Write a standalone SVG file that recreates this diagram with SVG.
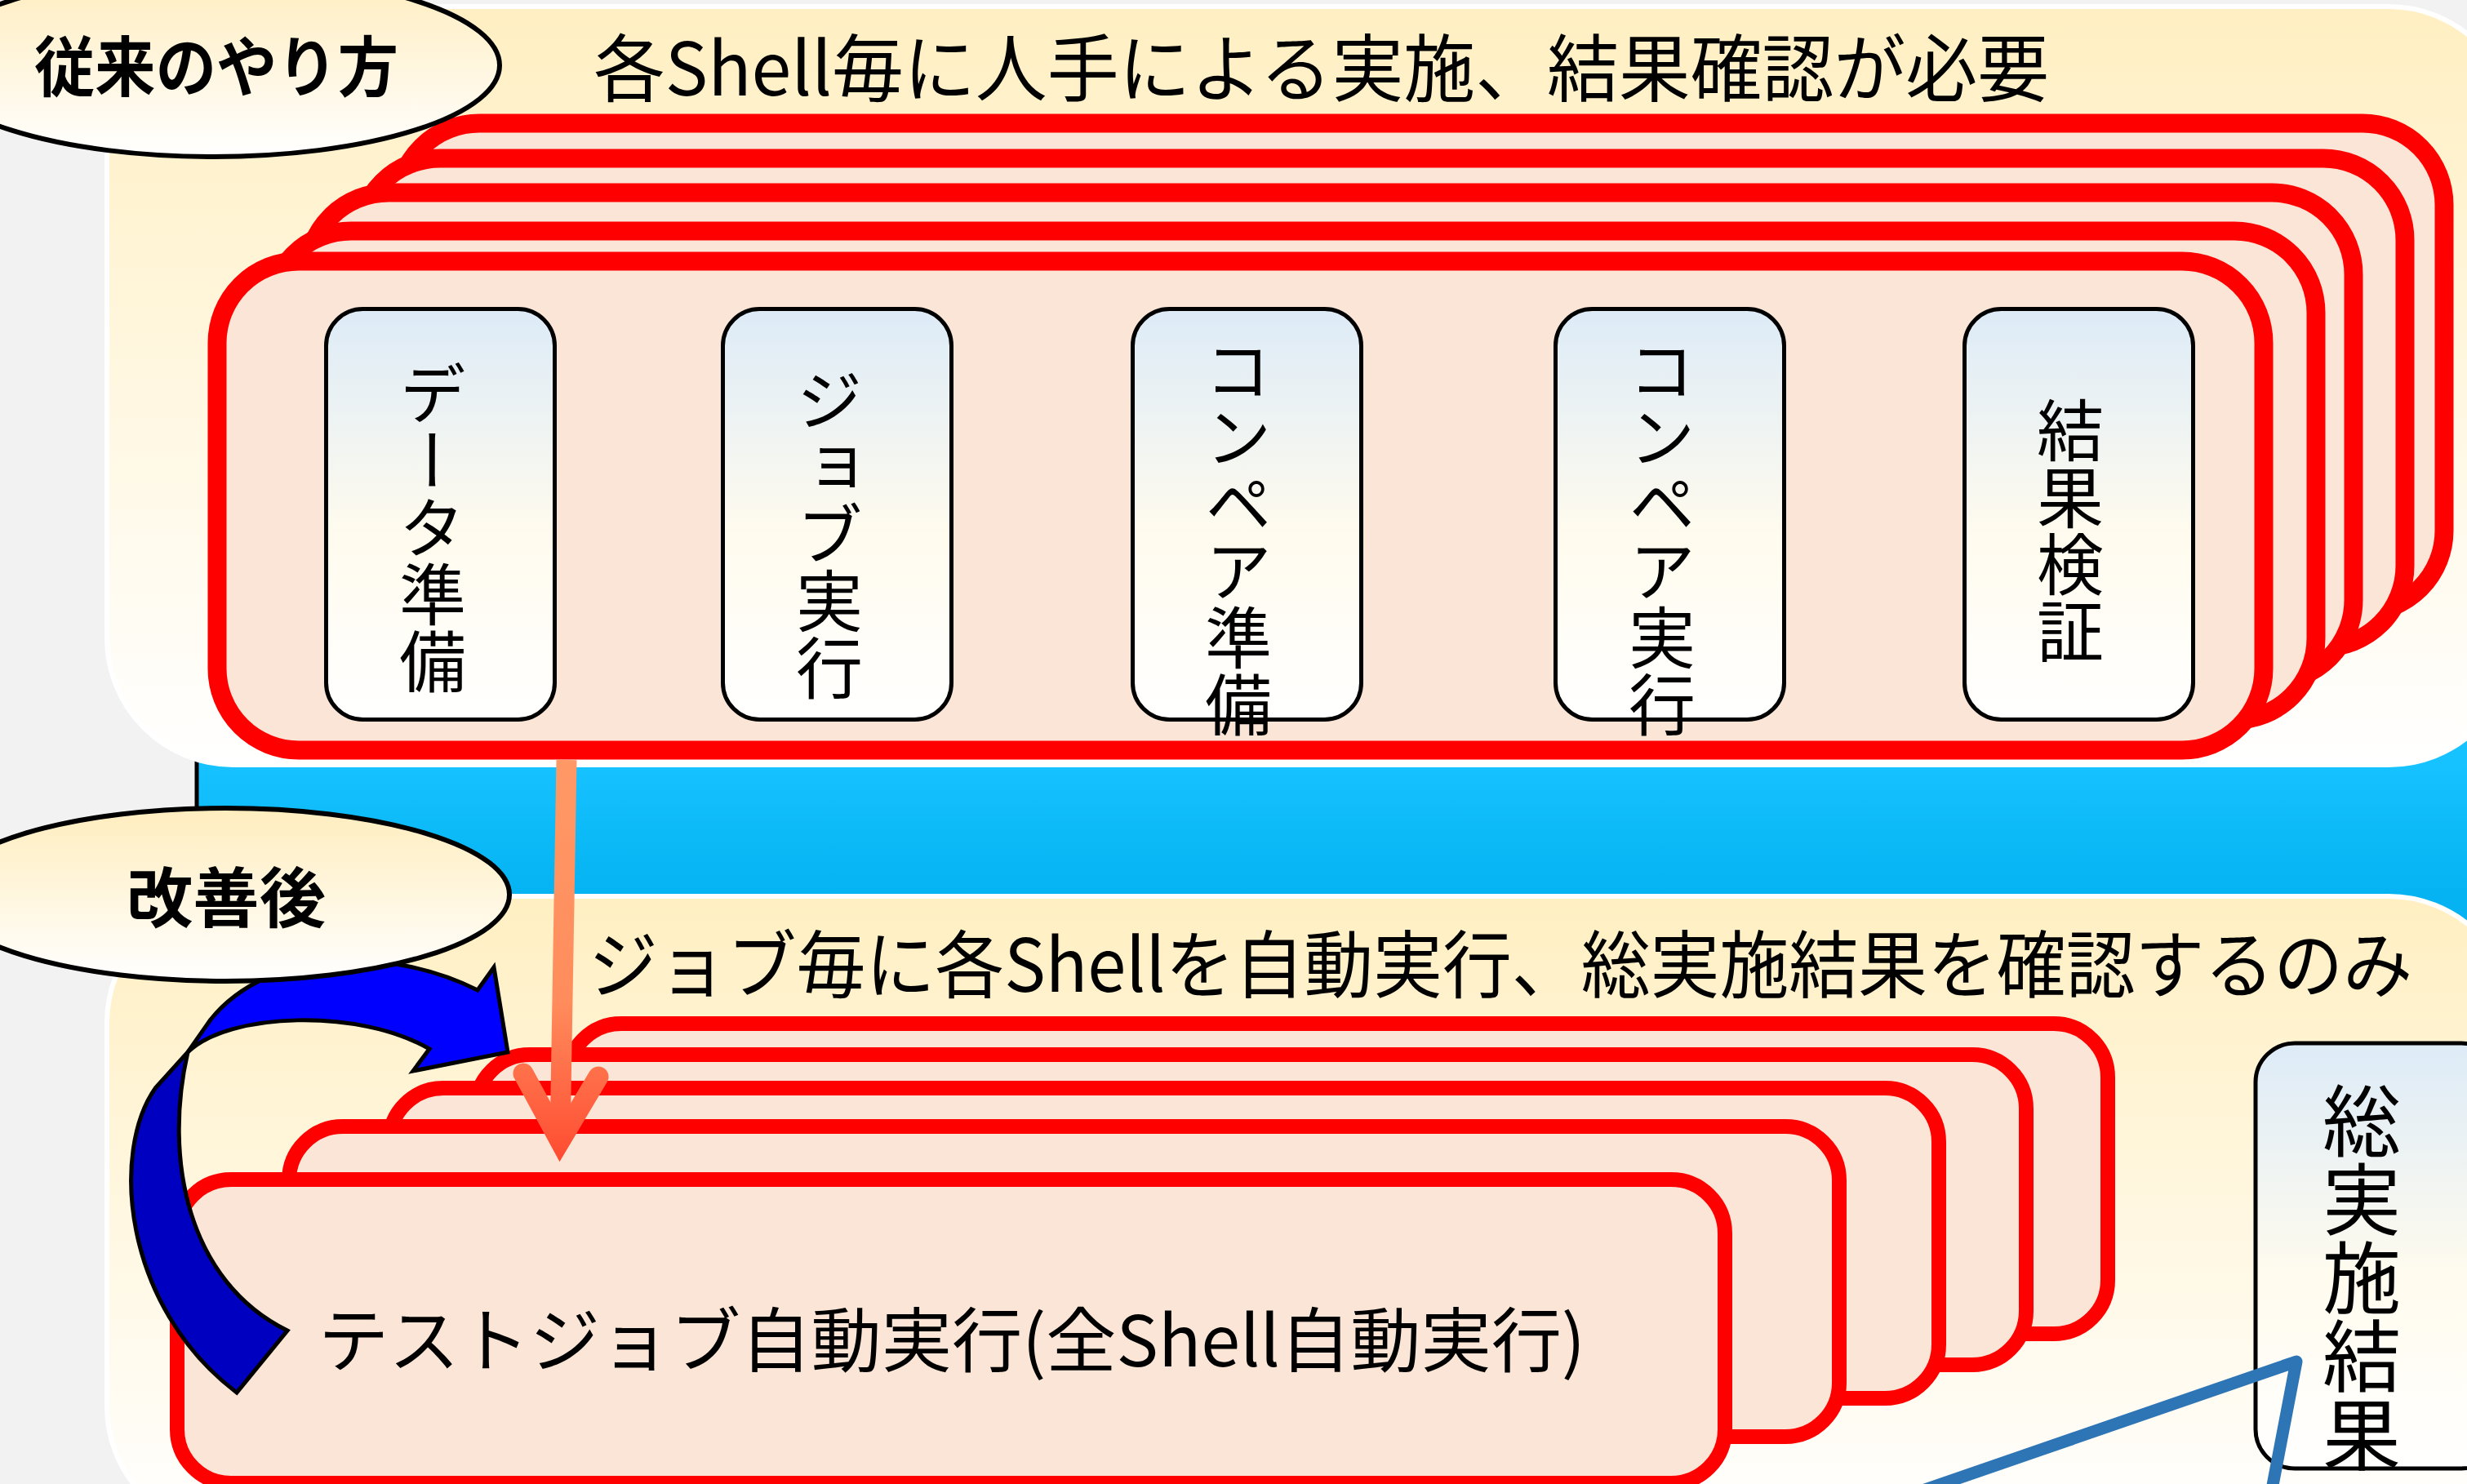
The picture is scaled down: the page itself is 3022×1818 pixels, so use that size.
<svg xmlns="http://www.w3.org/2000/svg" width="3022" height="1818" viewBox="0 0 3022 1818">
<defs>
<style>
.t { font-family: 'Noto Sans CJK JP', 'Noto Sans', sans-serif; fill: #000; }
.b { font-weight: 700; }
.vt { writing-mode: vertical-rl; text-anchor: middle; font-size: 82px; }
.panel { fill: url(#gPanel); stroke: #FFFFFF; stroke-width: 6; }
.rU { fill: #FBE5D6; stroke: #FF0000; stroke-width: 23; }
.rL { fill: #FBE5D6; stroke: #FF0000; stroke-width: 18; }
.box { fill: url(#gBox); stroke: #000; stroke-width: 5; }
.ell { fill: url(#gEll); stroke: #000; stroke-width: 6; }
.blk { stroke: #000; stroke-width: 5; stroke-linejoin: miter; }
</style>
<linearGradient id="gPanel" x1="0" y1="0" x2="0" y2="1">
<stop offset="0" stop-color="#FFEFC2"/>
<stop offset="1" stop-color="#FFFFFF"/>
</linearGradient>
<linearGradient id="gEll" x1="0" y1="0" x2="0" y2="1">
<stop offset="0" stop-color="#FFEDBE"/>
<stop offset="1" stop-color="#FFFFFF"/>
</linearGradient>
<linearGradient id="gBox" x1="0" y1="0" x2="0" y2="1">
<stop offset="0" stop-color="#DDEBF7"/>
<stop offset="0.55" stop-color="#FFFBEE"/>
<stop offset="1" stop-color="#FFFFFF"/>
</linearGradient>
<linearGradient id="gBand" gradientUnits="userSpaceOnUse" x1="0" y1="937" x2="0" y2="1097">
<stop offset="0" stop-color="#16C2FF"/>
<stop offset="1" stop-color="#05B3F2"/>
</linearGradient>
<linearGradient id="gOrange" gradientUnits="userSpaceOnUse" x1="0" y1="931" x2="0" y2="1426">
<stop offset="0" stop-color="#FF9966"/>
<stop offset="0.6" stop-color="#FF8C5C"/>
<stop offset="1" stop-color="#FF4A30"/>
</linearGradient>
</defs>

<rect x="0" y="0" width="3022" height="1818" fill="#F2F2F2"/>

<g id="band">
<rect x="241" y="700" width="2900" height="500" fill="url(#gBand)" stroke="#000" stroke-width="5"/>
</g>

<g id="panel-before">
<rect class="panel" x="131" y="8" width="2950" height="929" rx="155" ry="155"/>
<text class="t" x="727" y="117" font-size="90" textLength="1783" lengthAdjust="spacingAndGlyphs">各Shell毎に人手による実施、結果確認が必要</text>
</g>

<g id="stack-before">
<rect class="rU" x="487" y="151" width="2507" height="599" rx="100" ry="100"/>
<rect class="rU" x="439" y="194" width="2507" height="599" rx="100" ry="100"/>
<rect class="rU" x="376" y="236" width="2507" height="599" rx="100" ry="100"/>
<rect class="rU" x="330" y="283" width="2507" height="599" rx="100" ry="100"/>
<rect class="rU" x="266" y="320" width="2507" height="599" rx="100" ry="100"/>
</g>

<g id="step-data">
<rect class="box" x="399.5" y="378.5" width="280" height="503" rx="45" ry="45"/>
<text class="t vt" x="530" y="646">データ準備</text>
</g>
<g id="step-job">
<rect class="box" x="885.5" y="378.5" width="280" height="503" rx="45" ry="45"/>
<text class="t vt" x="1016" y="654">ジョブ実行</text>
</g>
<g id="step-compare-prep">
<rect class="box" x="1387.5" y="378.5" width="280" height="503" rx="45" ry="45"/>
<text class="t vt" x="1517" y="658">コンペア準備</text>
</g>
<g id="step-compare-exec">
<rect class="box" x="1905.5" y="378.5" width="280" height="503" rx="45" ry="45"/>
<text class="t vt" x="2036" y="658">コンペア実行</text>
</g>
<g id="step-verify">
<rect class="box" x="2406.5" y="378.5" width="280" height="503" rx="45" ry="45"/>
<text class="t vt" x="2536" y="650">結果検証</text>
</g>

<g id="panel-after">
<rect class="panel" x="131" y="1098" width="2950" height="780" rx="155" ry="155"/>
<text class="t" x="721" y="1215" font-size="90" textLength="2234" lengthAdjust="spacingAndGlyphs">ジョブ毎に各Shellを自動実行、総実施結果を確認するのみ</text>
</g>

<g id="stack-after">
<rect class="rL" x="695" y="1254" width="1887" height="380" rx="66" ry="66"/>
<rect class="rL" x="583" y="1292" width="1899" height="380" rx="66" ry="66"/>
<rect class="rL" x="477" y="1333" width="1898" height="380" rx="66" ry="66"/>
<rect class="rL" x="354" y="1380" width="1899" height="380" rx="66" ry="66"/>
</g>
<g id="auto-job">
<rect class="rL" x="217" y="1445" width="1896" height="372" rx="66" ry="66"/>
<text class="t" x="390" y="1674" font-size="86" textLength="1552" lengthAdjust="spacingAndGlyphs">テストジョブ自動実行(全Shell自動実行)</text>
</g>

<g id="total-result">
<rect class="box" x="2763" y="1278" width="300" height="521" rx="48" ry="48" stroke-width="6"/>
<text class="t vt" x="2893" y="1565" font-size="96" style="font-size:96px">総実施結果</text>
</g>

<g id="connectors">
<polyline points="2355,1826 2813,1668 2782,1830" fill="none" stroke="#2E75B6" stroke-width="15" stroke-linejoin="round"/>
<line x1="694" y1="931" x2="686" y2="1398" stroke="url(#gOrange)" stroke-width="25"/>
<polyline points="641,1315 686,1398 733,1319" fill="none" stroke="url(#gOrange)" stroke-width="25" stroke-linecap="round" stroke-linejoin="miter" stroke-miterlimit="6"/>
<path class="blk" fill="#0000C0" d="M 230,1289 L 191,1332 C 135,1410 150,1600 290,1706 L 352,1630 C 230,1570 200,1420 230,1289 Z"/>
<path class="blk" fill="#0000FF" d="M 258,1249 L 230,1289 C 280,1240 440,1235 526,1285 L 506,1312 L 622,1289 L 605,1185 L 585,1213 C 480,1160 330,1160 258,1249 Z"/>
</g>

<g id="label-before">
<ellipse class="ell" cx="261" cy="80" rx="351" ry="112"/>
<text class="t b" x="42" y="111" font-size="80" textLength="446" lengthAdjust="spacingAndGlyphs">従来のやり方</text>
</g>
<g id="label-after">
<ellipse class="ell" cx="276" cy="1096" rx="348" ry="106"/>
<text class="t b" x="155" y="1129" font-size="80" textLength="244" lengthAdjust="spacingAndGlyphs">改善後</text>
</g>
</svg>
